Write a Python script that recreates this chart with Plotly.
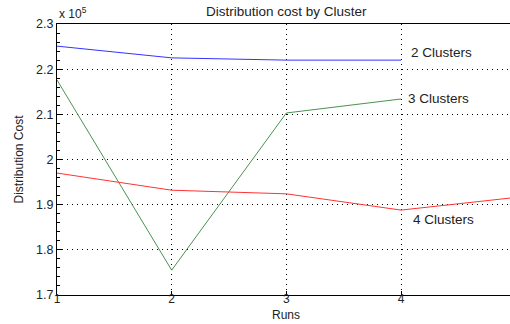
import plotly.graph_objects as go

runs = [1, 2, 3, 4]
runs_red = [1, 2, 3, 4, 5]
cost_2 = [2.251, 2.225, 2.220, 2.220]
cost_3 = [2.176, 1.755, 2.103, 2.134]
cost_4 = [1.970, 1.932, 1.924, 1.888, 1.916]
x_ticks = [1, 2, 3, 4]
y_ticks = [1.7, 1.8, 1.9, 2.0, 2.1, 2.2, 2.3]
y_tick_text = ["1.7", "1.8", "1.9", "2", "2.1", "2.2", "2.3"]

FONT = "Liberation Sans, Arial, sans-serif"
ANN = dict(size=13.5)

fig = go.Figure()
fig.add_trace(go.Scatter(x=runs, y=cost_2, mode="lines", line=dict(color="#3333ff", width=1)))
fig.add_trace(go.Scatter(x=runs, y=cost_3, mode="lines", line=dict(color="#4a9250", width=1)))
fig.add_trace(go.Scatter(x=runs_red, y=cost_4, mode="lines", line=dict(color="#ff3333", width=1)))

annotations = [
    dict(x=4.07, y=2.236, text="2 Clusters", xanchor="left", yanchor="middle", showarrow=False, font=ANN),
    dict(x=4.04, y=2.136, text="3 Clusters", xanchor="left", yanchor="middle", showarrow=False, font=ANN),
    dict(x=4.09, y=1.867, text="4 Clusters", xanchor="left", yanchor="middle", showarrow=False, font=ANN),
    dict(x=3, y=1.0, xref="x", yref="paper", yshift=3, text="Distribution cost by Cluster",
         xanchor="center", yanchor="bottom", showarrow=False, font=ANN),
    dict(x=0, y=1.0, xref="paper", yref="paper", yshift=1, text="x 10<sup>5</sup>",
         xanchor="left", yanchor="bottom", showarrow=False, font=dict(size=12)),
    dict(x=3, y=0, xref="x", yref="paper", yshift=-29, text="Runs",
         xanchor="center", yanchor="bottom", showarrow=False, font=dict(size=12)),
    dict(x=0, y=0.5, xref="paper", yref="paper", xshift=-39, text="Distribution Cost",
         textangle=-90, xanchor="center", yanchor="middle", showarrow=False,
         font=dict(family="Liberation Sans Narrow, Liberation Sans, Arial, sans-serif", size=12)),
]

fig.update_layout(
    width=510, height=324,
    margin=dict(l=57, r=0, t=24, b=29, autoexpand=False),
    paper_bgcolor="white", plot_bgcolor="white",
    showlegend=False,
    font=dict(family=FONT, size=12.5, color="#222222"),
    annotations=annotations,
)
fig.update_xaxes(
    range=[1, 4.95], tickvals=x_ticks, ticks="inside", ticklen=4, tickcolor="black",
    showline=True, linecolor="black", linewidth=1, mirror=True,
    showgrid=True, gridcolor="black", gridwidth=1, griddash="1px,4px",
    zeroline=False, automargin=False, ticklabelstandoff=-7, tickfont=dict(size=12),
)
fig.update_yaxes(
    range=[1.7, 2.3], tickvals=y_ticks, ticktext=y_tick_text, ticks="inside", ticklen=5, tickcolor="black",
    showline=True, linecolor="black", linewidth=1,
    showgrid=True, gridcolor="black", gridwidth=1, griddash="1px,4px",
    zeroline=False, automargin=False,
    minor=dict(dtick=0.02, tick0=1.7, ticks="inside", ticklen=3, tickcolor="black", showgrid=False),
)

fig.write_html("out.html", config={"displayModeBar": False},
               post_script="document.body.style.margin='0px';document.body.style.overflow='hidden';")
